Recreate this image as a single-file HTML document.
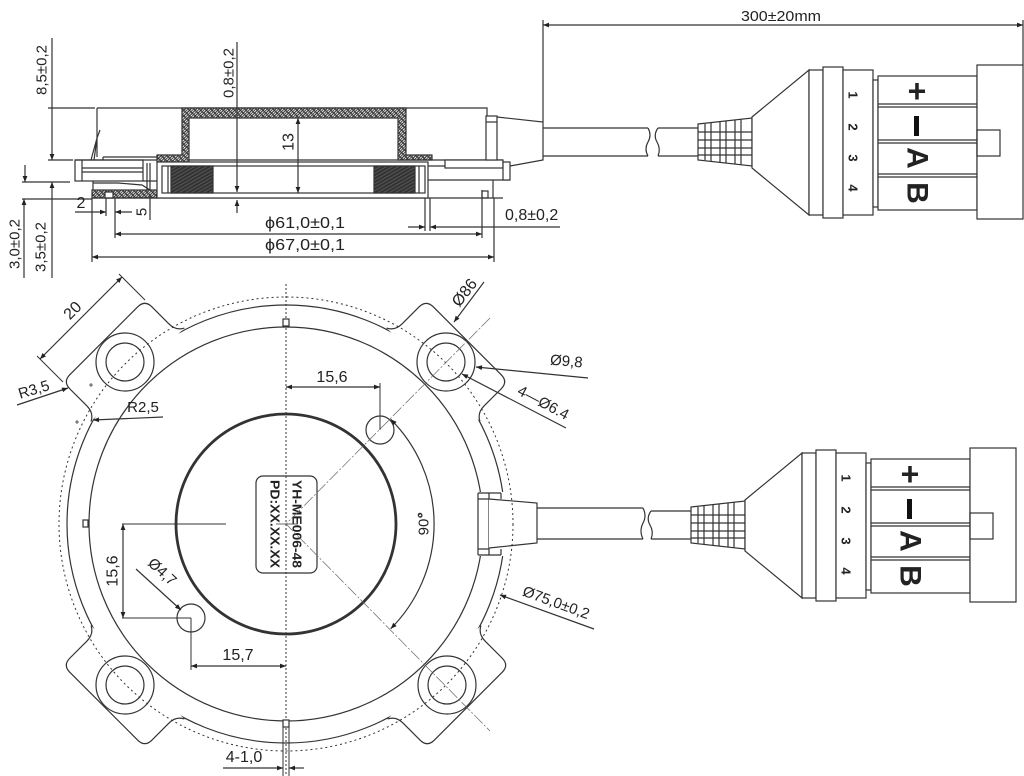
<!DOCTYPE html>
<html><head><meta charset="utf-8"><style>html,body{margin:0;padding:0;background:#fff}svg{display:block}text{fill:#222;stroke:none;font-family:"Liberation Sans",Arial,sans-serif}</style></head>
<body>
<svg width="1024" height="776" viewBox="0 0 1024 776" xmlns="http://www.w3.org/2000/svg" fill="none" stroke="#333" stroke-width="1.2">
<defs>
<marker id="a" viewBox="0 0 10 10" refX="10" refY="5" markerWidth="9" markerHeight="6" orient="auto-start-reverse" markerUnits="userSpaceOnUse"><path d="M0,1 L10,5 L0,9 z" fill="#222" stroke="none"/></marker>
<pattern id="h" width="4" height="4" patternUnits="userSpaceOnUse" patternTransform="rotate(45)"><rect width="4" height="4" fill="#fff"/><line x1="2" y1="0" x2="2" y2="4" stroke="#444" stroke-width="1"/></pattern>
<pattern id="c" width="3" height="3" patternUnits="userSpaceOnUse" patternTransform="rotate(60)"><rect width="3" height="3" fill="#333"/><line x1="1.5" y1="0" x2="1.5" y2="3" stroke="#555" stroke-width="1"/></pattern>
</defs>

<!-- ============ SIDE VIEW ============ -->
<path d="M52,38 V108"/>
<path d="M52,134 V108 M52,134 V160" marker-end="url(#a)"/>
<path d="M48,108 H95 M48,160 H73"/>
<text transform="translate(42,70) rotate(-90)" font-size="15" text-anchor="middle" dominant-baseline="central">8,5±0,2</text>

<path d="M25,165 V182" marker-end="url(#a)"/>
<path d="M22,182 H70 M22,199 H92"/>
<path d="M52,278 V182" marker-end="url(#a)"/>
<path d="M24,278 V199" marker-end="url(#a)"/>
<text transform="translate(15,244) rotate(-90)" font-size="15" text-anchor="middle" dominant-baseline="central">3,0±0,2</text>
<text transform="translate(41,247) rotate(-90)" font-size="15" text-anchor="middle" dominant-baseline="central">3,5±0,2</text>

<!-- housing -->
<path d="M97,108 H487 V160"/>
<path d="M97,108 V157"/>
<path d="M100,130 L97,138 L91,160 M97,138 L94,160"/>
<path d="M103,157 H157 M103,157 V160"/>
<path d="M75,160 H503"/>
<rect x="75" y="160" width="68" height="21"/>
<path d="M82,160 V181 M82,168 H143 M82,172 H143"/>
<path d="M143,181 H157 M147,163 V195 M150,163 V195"/>
<path d="M93,181 V190 M93,183 L118,183 L142,185 L150,190"/>
<rect x="92" y="190" width="65" height="8" fill="url(#h)"/>
<rect x="105" y="192" width="8" height="6" fill="#fff"/>
<path d="M92,198 H503"/>
<path d="M182,108 H406 V155 H432 V160 H398 V118 H189 V162 H157 V155 H182 Z" fill="url(#h)"/>
<rect x="157" y="162" width="271" height="36" fill="#fff"/>
<rect x="162" y="166" width="263" height="27"/>
<path d="M168,166 V193"/>
<rect x="171" y="166" width="42" height="27" fill="url(#c)"/>
<rect x="374" y="166" width="41" height="27" fill="url(#c)"/>
<path d="M419,166 V193"/>
<rect x="445" y="160" width="58" height="8" fill="#fff"/>
<path d="M428,166 H445 M428,180 H510"/>
<rect x="503" y="162" width="7" height="18" fill="#fff"/>
<path d="M493,180 V198"/>
<rect x="482" y="191" width="6" height="7"/>
<rect x="486" y="116" width="11" height="44" fill="#fff"/>
<path d="M486,122 H497"/>
<path d="M497,117 L543,122 V160 L510,166"/>
<path d="M543,128 H648 M543,156 H648"/>
<path d="M648,128 q4,7 0,14 q-4,7 0,14"/>

<!-- side dims -->
<path d="M237,42 V170"/>
<path d="M237,170 V192" marker-end="url(#a)"/>
<path d="M237,213 V200" marker-end="url(#a)"/>
<text transform="translate(229,73) rotate(-90)" font-size="15" text-anchor="middle" dominant-baseline="central">0,8±0,2</text>
<path d="M298,118 V193" marker-start="url(#a)" marker-end="url(#a)"/>
<text transform="translate(289,142) rotate(-90)" font-size="16" text-anchor="middle" dominant-baseline="central">13</text>

<path d="M92,198 V262 M106,198 V216 M115,198 V238 M150,195 V220 M482,190 V238 M494,198 V262 M425,198 V231 M430,198 V231"/>
<path d="M75,212 H106" marker-end="url(#a)"/>
<path d="M132,212 H115" marker-end="url(#a)"/>
<text x="81" y="208" font-size="16" text-anchor="middle">2</text>
<text transform="translate(142,212) rotate(-90)" font-size="15" text-anchor="middle" dominant-baseline="central">5</text>
<path d="M115,234 H482" marker-start="url(#a)" marker-end="url(#a)"/>
<path d="M92,257 H494" marker-start="url(#a)" marker-end="url(#a)"/>
<text x="265" y="228" font-size="16" textLength="80" lengthAdjust="spacingAndGlyphs">ϕ61,0±0,1</text>
<text x="265" y="250" font-size="16" textLength="80" lengthAdjust="spacingAndGlyphs">ϕ67,0±0,1</text>
<path d="M408,227 H425" marker-end="url(#a)"/>
<path d="M560,227 H430" marker-end="url(#a)"/>
<text x="505" y="220" font-size="16">0,8±0,2</text>

<!-- 300 dim -->
<path d="M543,20 V122 M1023,20 V65"/>
<path d="M543,25 H1023" marker-start="url(#a)" marker-end="url(#a)"/>
<text x="781" y="21" font-size="15" text-anchor="middle" textLength="80" lengthAdjust="spacingAndGlyphs">300±20mm</text>

<!-- ============ CONNECTORS ============ -->
<g>
 <path d="M658,128 H698 M658,156 H698"/>
 <path d="M658,128 q-5,7 -1,14 q4,7 1,14"/>
 <path d="M698,124 L752,118 L752,166 L698,160 Z" fill="#fff"/>
 <path d="M705,124 V160 M711,123 V161 M720,122 V162 M726,121 V163 M735,120 V164 M741,119 V165 M698,132 H752 M698,140 H752 M698,148 H752 M698,155 H752"/>
 <path d="M752,117 L809,70 L809,215 L752,168 Z" fill="#fff"/>
 <rect x="809" y="70" width="14" height="145" fill="#fff"/>
 <rect x="823" y="67" width="20" height="151" fill="#fff"/>
 <rect x="843" y="70" width="30" height="145" fill="#fff"/>
 <rect x="873" y="80" width="5" height="127" fill="#fff"/>
 <rect x="878" y="76" width="99" height="134" fill="#fff"/>
 <path d="M878,104 H977 M878,107 H977 M878,140 H977 M878,143 H977 M878,174 H977 M878,177 H977"/>
 <rect x="977" y="65" width="46" height="154" fill="#fff"/>
 <rect x="977" y="130" width="23" height="26"/>
 <text transform="translate(853,95) rotate(90)" font-size="13" font-weight="bold" text-anchor="middle" dominant-baseline="central">1</text>
 <text transform="translate(853,127) rotate(90)" font-size="13" font-weight="bold" text-anchor="middle" dominant-baseline="central">2</text>
 <text transform="translate(853,158) rotate(90)" font-size="13" font-weight="bold" text-anchor="middle" dominant-baseline="central">3</text>
 <text transform="translate(853,188) rotate(90)" font-size="13" font-weight="bold" text-anchor="middle" dominant-baseline="central">4</text>
 <text x="917" y="102" font-size="32" font-weight="bold" text-anchor="middle">+</text>
 <rect x="914" y="116" width="5" height="20" fill="#111" stroke="none"/>
 <text transform="translate(917,158) rotate(90)" font-size="30" font-weight="bold" text-anchor="middle" dominant-baseline="central">A</text>
 <text transform="translate(917,193) rotate(90)" font-size="30" font-weight="bold" text-anchor="middle" dominant-baseline="central">B</text>
</g>
<g transform="translate(-7,383)">
 <path d="M658,128 H698 M658,156 H698"/>
 <path d="M658,128 q-5,7 -1,14 q4,7 1,14"/>
 <path d="M698,124 L752,118 L752,166 L698,160 Z" fill="#fff"/>
 <path d="M705,124 V160 M711,123 V161 M720,122 V162 M726,121 V163 M735,120 V164 M741,119 V165 M698,132 H752 M698,140 H752 M698,148 H752 M698,155 H752"/>
 <path d="M752,117 L809,70 L809,215 L752,168 Z" fill="#fff"/>
 <rect x="809" y="70" width="14" height="145" fill="#fff"/>
 <rect x="823" y="67" width="20" height="151" fill="#fff"/>
 <rect x="843" y="70" width="30" height="145" fill="#fff"/>
 <rect x="873" y="80" width="5" height="127" fill="#fff"/>
 <rect x="878" y="76" width="99" height="134" fill="#fff"/>
 <path d="M878,104 H977 M878,107 H977 M878,140 H977 M878,143 H977 M878,174 H977 M878,177 H977"/>
 <rect x="977" y="65" width="46" height="154" fill="#fff"/>
 <rect x="977" y="130" width="23" height="26"/>
 <text transform="translate(853,95) rotate(90)" font-size="13" font-weight="bold" text-anchor="middle" dominant-baseline="central">1</text>
 <text transform="translate(853,127) rotate(90)" font-size="13" font-weight="bold" text-anchor="middle" dominant-baseline="central">2</text>
 <text transform="translate(853,158) rotate(90)" font-size="13" font-weight="bold" text-anchor="middle" dominant-baseline="central">3</text>
 <text transform="translate(853,188) rotate(90)" font-size="13" font-weight="bold" text-anchor="middle" dominant-baseline="central">4</text>
 <text x="917" y="102" font-size="32" font-weight="bold" text-anchor="middle">+</text>
 <rect x="914" y="116" width="5" height="20" fill="#111" stroke="none"/>
 <text transform="translate(917,158) rotate(90)" font-size="30" font-weight="bold" text-anchor="middle" dominant-baseline="central">A</text>
 <text transform="translate(917,193) rotate(90)" font-size="30" font-weight="bold" text-anchor="middle" dominant-baseline="central">B</text>
</g>

<!-- ============ PLAN VIEW ============ -->
<circle cx="286" cy="524" r="219"/>
<g fill="#fff">
<path transform="translate(125,362) rotate(-45)" d="M-66,18 Q-58,14 -58,4 L-58,-20 Q-58,-30 -48,-30 L48,-30 Q58,-30 58,-20 L58,4 Q58,14 66,18"/>
<path transform="translate(446,362) rotate(45)" d="M-66,18 Q-58,14 -58,4 L-58,-20 Q-58,-30 -48,-30 L48,-30 Q58,-30 58,-20 L58,4 Q58,14 66,18"/>
<path transform="translate(447,685) rotate(135)" d="M-66,18 Q-58,14 -58,4 L-58,-20 Q-58,-30 -48,-30 L48,-30 Q58,-30 58,-20 L58,4 Q58,14 66,18"/>
<path transform="translate(125,685) rotate(-135)" d="M-66,18 Q-58,14 -58,4 L-58,-20 Q-58,-30 -48,-30 L48,-30 Q58,-30 58,-20 L58,4 Q58,14 66,18"/>
</g>
<circle cx="286" cy="524" r="197"/>
<rect x="477" y="492" width="30" height="64" fill="#fff" stroke="none"/>
<path d="M478,493 V555 M489,493 V555 M501,493 V499 M501,549 V555 M478,493 H501 M478,499 H489 M478,549 H489 M478,555 H501"/>
<path d="M489,499 L537,503 V543 L489,548" fill="#fff"/>
<path d="M537,508 H643 M537,539 H643"/>
<path d="M643,508 q4,8 0,15 q-4,8 0,16"/>

<circle cx="286" cy="524" r="227" stroke-dasharray="2,3" stroke-width="1"/>
<circle cx="286" cy="524" r="110" stroke-width="2.8"/>
<circle cx="125" cy="362" r="29"/><circle cx="125" cy="362" r="19"/>
<circle cx="446" cy="362" r="29"/><circle cx="446" cy="362" r="19"/>
<circle cx="447" cy="685" r="29"/><circle cx="447" cy="685" r="19"/>
<circle cx="125" cy="685" r="29"/><circle cx="125" cy="685" r="19"/>
<circle cx="380" cy="430" r="14"/>
<circle cx="191" cy="618" r="14"/>
<circle cx="420" cy="515" r="1.8" stroke-width="1"/>
<rect x="256" y="476" width="61" height="97" rx="7" fill="#fff"/>
<text transform="translate(297,524) rotate(90)" font-size="13" font-weight="bold" text-anchor="middle" dominant-baseline="central" textLength="88" lengthAdjust="spacingAndGlyphs">YH-ME006-48</text>
<text transform="translate(275,524) rotate(90)" font-size="13" font-weight="bold" text-anchor="middle" dominant-baseline="central" textLength="88" lengthAdjust="spacingAndGlyphs">PD:XX.XX.XX</text>
<path d="M286,284 V776" stroke-dasharray="2,2" stroke-width="1"/>
<path d="M276,524 H298" stroke-width="0.8"/>
<path d="M490,318 L286,524 L490,731" stroke-width="0.7" stroke="#666" stroke-dasharray="12,2,2,2"/>
<rect x="283" y="319" width="6" height="7" fill="#fff"/>
<rect x="283" y="720" width="6" height="7" fill="#fff"/>
<rect x="83" y="520" width="5" height="7" fill="#fff"/>
<path d="M89,385 H93 M91,383 V387 M75,422 H79 M77,420 V424" stroke-width="0.8"/>
<path d="M283,727 V776 M289,727 V776" stroke-width="1"/>

<path d="M390.7,419.3 A148,148 0 0 1 390.7,628.7" marker-start="url(#a)" marker-end="url(#a)"/>
<text transform="translate(424,524) rotate(-90)" font-size="15" text-anchor="middle" dominant-baseline="central">90°</text>

<path d="M40,359 L122,277" marker-start="url(#a)" marker-end="url(#a)"/>
<path d="M145,300 L119,274 M63,382 L37,356" stroke-width="1"/>
<text transform="translate(73,311) rotate(-45)" font-size="16" text-anchor="middle" dominant-baseline="central">20</text>
<path d="M17,405 L68,388" marker-end="url(#a)"/>
<text transform="translate(34,390) rotate(-17)" font-size="15" text-anchor="middle" dominant-baseline="central">R3,5</text>
<path d="M163,417 L93,420" marker-end="url(#a)"/>
<text x="143" y="412" font-size="15" text-anchor="middle">R2,5</text>

<path d="M484,282 L454,322" marker-end="url(#a)"/>
<text transform="translate(465,293) rotate(-52)" font-size="16" text-anchor="middle" dominant-baseline="central">Ø86</text>
<path d="M588,378 L476,367" marker-end="url(#a)"/>
<text transform="translate(566,366) rotate(5)" font-size="15" text-anchor="middle">Ø9,8</text>
<path d="M566,428 L462,374" marker-end="url(#a)"/>
<text transform="translate(541,407) rotate(28)" font-size="15" text-anchor="middle">4—Ø6.4</text>

<path d="M286,387 H380" marker-start="url(#a)" marker-end="url(#a)"/>
<path d="M380,383 V430" stroke-width="1"/>
<text x="332" y="382" font-size="16" text-anchor="middle">15,6</text>
<path d="M122,524 H226 M122,618 H191" stroke-width="1"/>
<path d="M123,524 V618" marker-start="url(#a)" marker-end="url(#a)"/>
<text transform="translate(113,571) rotate(-90)" font-size="16" text-anchor="middle" dominant-baseline="central">15,6</text>
<path d="M136,569 L181,610" marker-end="url(#a)"/>
<text transform="translate(162,572) rotate(43)" font-size="15" text-anchor="middle" dominant-baseline="central">Ø4,7</text>
<path d="M191,618 V670" stroke-width="1"/>
<path d="M191,666 H286" marker-start="url(#a)" marker-end="url(#a)"/>
<text x="238" y="660" font-size="16" text-anchor="middle">15,7</text>
<path d="M223,768 H283" marker-end="url(#a)"/>
<path d="M304,768 H289" marker-end="url(#a)"/>
<text x="244" y="762" font-size="16" text-anchor="middle">4-1,0</text>
<path d="M594,629 L500,595" marker-end="url(#a)"/>
<text transform="translate(556,603) rotate(20)" font-size="15" text-anchor="middle" dominant-baseline="central">Ø75,0±0,2</text>
</svg>
</body></html>
